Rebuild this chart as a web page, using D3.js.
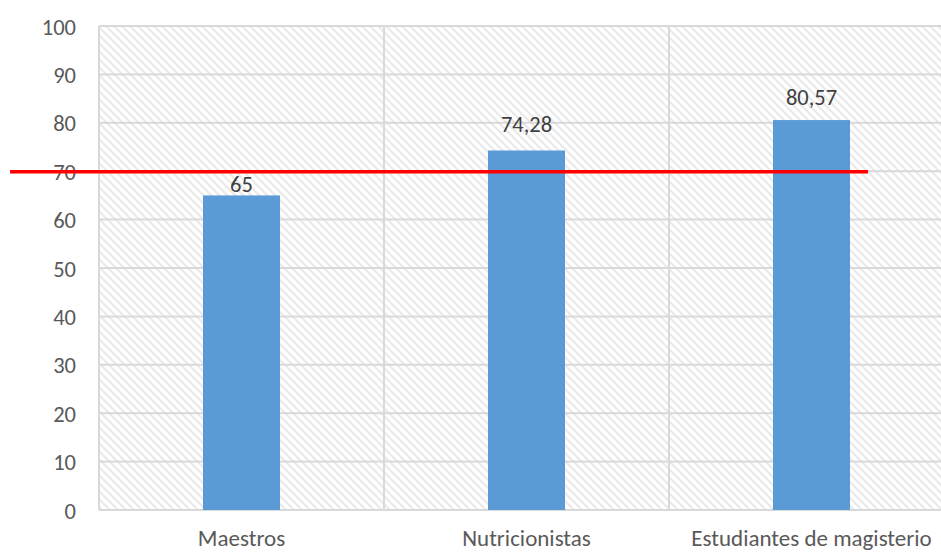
<!DOCTYPE html>
<html>
<head>
<meta charset="utf-8">
<script src="https://cdn.jsdelivr.net/npm/d3@7"></script>
<style>
  html, body { margin: 0; padding: 0; background: #fff; overflow: hidden; }
  svg { display: block; font-family: Carlito, Lato, "Open Sans", "Noto Sans", sans-serif; }
</style>
</head>
<body>
<svg id="chart" width="941" height="552"></svg>
<script>
// Mean scores by group
const categories = ["Maestros", "Nutricionistas", "Estudiantes de magisterio"];
const values = [65, 74.28, 80.57];
const valueLabels = ["65", "74,28", "80,57"];
const yTicks = [0, 10, 20, 30, 40, 50, 60, 70, 80, 90, 100];
const threshold = 70;

const svg = d3.select("#chart");
const plot = { left: 99, right: 954, top: 26, bottom: 510 };
const FONT = "Carlito, Lato, 'Open Sans', sans-serif";
const FS = 22.5;

// Hatched plot-area background
const defs = svg.append("defs");
const pat = defs.append("pattern")
  .attr("id", "hatch")
  .attr("patternUnits", "userSpaceOnUse")
  .attr("width", 8).attr("height", 8);
pat.append("rect").attr("width", 8).attr("height", 8).attr("fill", "#fff");
pat.append("path")
  .attr("d", "M-2,-2 L10,10 M-2,6 L2,10 M6,-2 L10,2")
  .attr("stroke", "#e9e9e9").attr("stroke-width", 2);

const x = d3.scaleBand().domain(categories).range([plot.left, plot.right]).paddingInner(0).paddingOuter(0);
const y = d3.scaleLinear().domain([0, 100]).range([plot.bottom, plot.top]);

svg.append("rect")
  .attr("x", plot.left).attr("y", plot.top)
  .attr("width", plot.right - plot.left).attr("height", plot.bottom - plot.top)
  .attr("fill", "url(#hatch)");

// Horizontal gridlines
svg.append("g").selectAll("line").data(yTicks).join("line")
  .attr("x1", plot.left).attr("x2", plot.right)
  .attr("y1", d => y(d)).attr("y2", d => y(d))
  .attr("stroke", "#d9d9d9").attr("stroke-width", 2);

// Vertical category separators
const seps = categories.map(c => x(c)).concat([x(categories[categories.length - 1]) + x.bandwidth()]);
svg.append("g").selectAll("line").data(seps).join("line")
  .attr("x1", d => d).attr("x2", d => d)
  .attr("y1", plot.top).attr("y2", plot.bottom)
  .attr("stroke", "#d9d9d9").attr("stroke-width", 2);

// Y axis tick labels
const yAxis = d3.axisLeft(y).tickValues(yTicks).tickSize(0).tickPadding(23);
const gy = svg.append("g").attr("transform", `translate(${plot.left},0)`).call(yAxis);
gy.select(".domain").remove();
gy.selectAll("text").attr("font-size", FS).attr("fill", "#595959")
  .attr("font-family", FONT).attr("dy", "0.36em");

// X axis category labels
const xAxis = d3.axisBottom(x).tickSize(0);
const gx = svg.append("g").attr("transform", `translate(0,${plot.bottom})`).call(xAxis);
gx.select(".domain").remove();
gx.selectAll("text").attr("font-size", 23).attr("fill", "#595959")
  .attr("font-family", FONT).attr("y", 35.5).attr("dy", 0);

// Bars
const barW = 77;
svg.append("g").selectAll("rect").data(values).join("rect")
  .attr("x", (d, i) => x(categories[i]) + x.bandwidth() / 2 - barW / 2)
  .attr("y", d => y(d))
  .attr("width", barW)
  .attr("height", d => y(0) - y(d))
  .attr("fill", "#5b9bd5");

// Value labels (first label sits just above its bar, below the threshold line)
const labelGap = [3, 18, 15];
svg.append("g").selectAll("text").data(values).join("text")
  .attr("x", (d, i) => x(categories[i]) + x.bandwidth() / 2)
  .attr("y", (d, i) => y(d) - labelGap[i])
  .attr("text-anchor", "middle")
  .attr("font-family", FONT)
  .attr("font-size", FS).attr("fill", "#404040")
  .text((d, i) => valueLabels[i]);

// Threshold line
svg.append("line")
  .attr("x1", 10).attr("x2", 868)
  .attr("y1", y(threshold) + 0.5).attr("y2", y(threshold) + 0.5)
  .attr("stroke", "#ff0000").attr("stroke-width", 3.5);
</script>
</body>
</html>
